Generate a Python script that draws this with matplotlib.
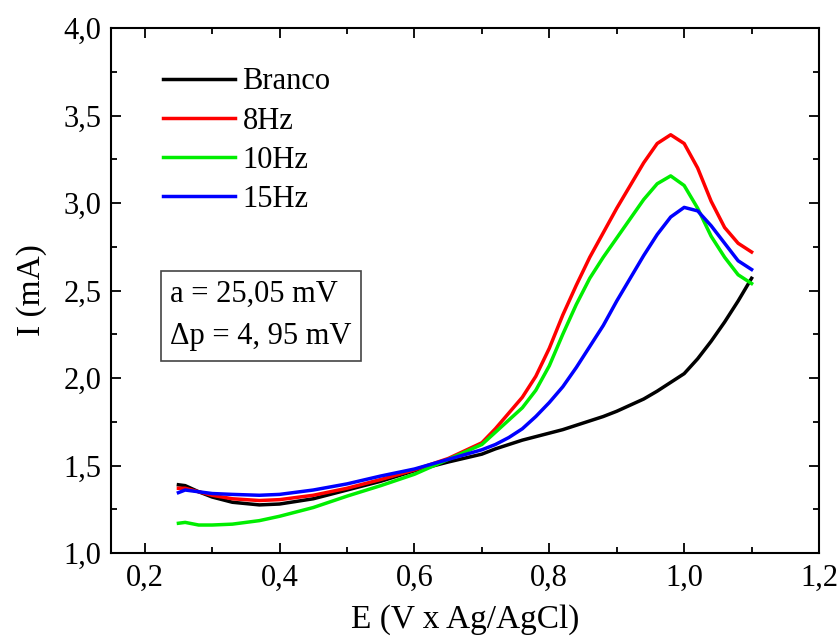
import matplotlib
matplotlib.use('Agg')
from matplotlib import pyplot as plt
from matplotlib.ticker import MultipleLocator, FuncFormatter

# potential (V x Ag/AgCl), shared by all curves
potential = [0.25, 0.26, 0.28, 0.30, 0.33, 0.37, 0.40, 0.45, 0.50, 0.55, 0.60,
             0.65, 0.70, 0.72, 0.74, 0.76, 0.78, 0.80, 0.82, 0.84, 0.86, 0.88,
             0.90, 0.92, 0.94, 0.96, 0.98, 1.00, 1.02, 1.04, 1.06, 1.08, 1.10]

# current readings (mA)
branco = [1.39, 1.385, 1.35, 1.32, 1.29, 1.275, 1.28, 1.31, 1.36, 1.41, 1.47,
          1.52, 1.565, 1.595, 1.62, 1.645, 1.665, 1.685, 1.705, 1.73, 1.755, 1.78,
          1.81, 1.845, 1.88, 1.925, 1.975, 2.025, 2.11, 2.21, 2.32, 2.44, 2.57]
hz8 = [1.37, 1.37, 1.35, 1.33, 1.31, 1.30, 1.305, 1.33, 1.37, 1.42, 1.475,
       1.54, 1.63, 1.71, 1.80, 1.89, 2.01, 2.17, 2.36, 2.53, 2.69, 2.83,
       2.97, 3.10, 3.23, 3.34, 3.39, 3.34, 3.20, 3.01, 2.86, 2.77, 2.72]
hz10 = [1.17, 1.175, 1.16, 1.16, 1.165, 1.185, 1.21, 1.26, 1.325, 1.385, 1.45,
        1.535, 1.62, 1.69, 1.76, 1.83, 1.93, 2.07, 2.25, 2.42, 2.57, 2.69,
        2.80, 2.91, 3.02, 3.11, 3.155, 3.10, 2.97, 2.81, 2.69, 2.59, 2.54]
hz15 = [1.345, 1.36, 1.35, 1.34, 1.335, 1.33, 1.335, 1.36, 1.395, 1.44, 1.48,
        1.535, 1.59, 1.62, 1.66, 1.71, 1.78, 1.86, 1.95, 2.06, 2.18, 2.30,
        2.44, 2.57, 2.70, 2.82, 2.92, 2.975, 2.955, 2.87, 2.77, 2.67, 2.62]

series_labels = ['Branco', '8Hz', '10Hz', '15Hz']
series_colors = ['#000000', '#ff0000', '#00ee00', '#0000ff']

plt.rcParams['font.family'] = ['Liberation Serif', 'DejaVu Serif']

fig = plt.figure(figsize=(8.39, 6.38), dpi=100)
ax = fig.add_axes([0.1323, 0.1332, 0.8439, 0.8229])

for values, label, color in zip([branco, hz8, hz10, hz15], series_labels, series_colors):
    ax.plot(potential, values, color=color, lw=2.5, label=label, solid_joinstyle='round')

ax.set_xlim(0.15, 1.2)
ax.set_ylim(1.0, 4.0)
ax.xaxis.set_major_locator(MultipleLocator(0.2))
ax.xaxis.set_minor_locator(MultipleLocator(0.1))
ax.yaxis.set_major_locator(MultipleLocator(0.5))
ax.yaxis.set_minor_locator(MultipleLocator(0.25))

# decimal comma on both axes
comma = FuncFormatter(lambda v, pos: '{:.1f}'.format(v).replace('.', ','))
ax.xaxis.set_major_formatter(comma)
ax.yaxis.set_major_formatter(comma)

ax.tick_params(which='both', direction='in', top=True, right=True, width=1.3, labelsize=22)
ax.tick_params(which='major', length=7)
ax.tick_params(which='minor', length=4.5)
ax.tick_params(axis='x', which='major', pad=8)
ax.tick_params(axis='y', which='major', pad=7)
for spine in ax.spines.values():
    spine.set_linewidth(1.5)

ax.set_xlabel('E (V x Ag/AgCl)', fontsize=24, labelpad=8)
ax.set_ylabel('I (mA)', fontsize=24, labelpad=12)

ax.legend(loc='upper left', bbox_to_anchor=(0.03, 0.983), frameon=False, fontsize=22,
          handlelength=2.35, handletextpad=0.26, labelspacing=0.33, borderaxespad=0.6)

ax.text(0.0833, 0.452, 'a = 25,05 mV\nΔp = 4, 95 mV', transform=ax.transAxes,
        fontsize=22, va='center', ha='left', linespacing=1.6,
        bbox=dict(boxstyle='square,pad=0.31', fc='white', ec='#444444', lw=1.2))

fig.savefig('out.png', dpi=100)
